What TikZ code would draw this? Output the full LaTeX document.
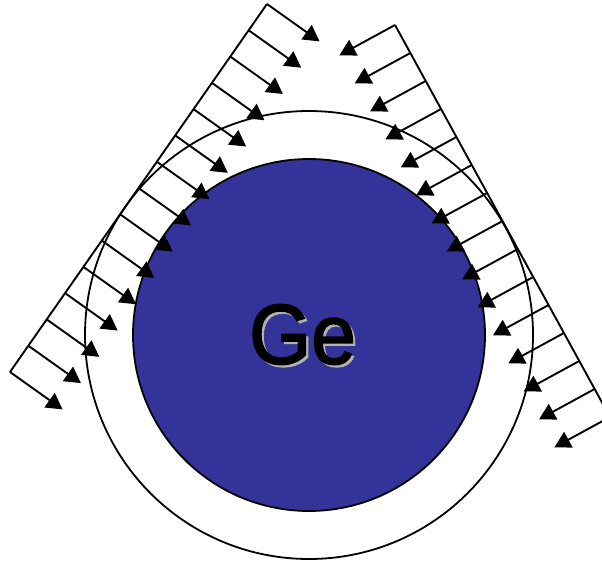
\documentclass[tikz,border=0pt]{standalone}
\usepackage{fontspec}
\setmainfont{Liberation Sans}
\newfontfamily\geplain[FakeStretch=0.94,FakeBold=1.2]{Liberation Sans}
\newfontfamily\geheavy[FakeStretch=0.94,FakeBold=2]{Liberation Sans}
\usetikzlibrary{arrows.meta}
\definecolor{geblue}{RGB}{51,51,153}
\definecolor{geshadow}{RGB}{178,178,178}
\tikzset{
  ring/.style={draw=black,line width=1.8pt,circle,inner sep=0pt,outer sep=0pt},
  edge line/.style={draw=black,line width=1.9pt},
  ray/.style={draw=black,line width=1.9pt,-{Triangle[length=16pt,width=17.5pt]},shorten >=-0.7pt},
  label text/.style={inner sep=0pt}
}
\begin{document}
\begin{tikzpicture}[x=1pt,y=-1pt]
\useasboundingbox (0,0) rectangle (602,562);
\clip (0,0) rectangle (602,562);
\node[ring,minimum size=448pt] (outer) at (309,335) {};
\node[ring,fill=geblue,minimum size=352pt] (inner) at (309,335) {};
\node[label text,text=geshadow,font=\geplain\fontsize{85}{85}\selectfont] (geshadow) at (305,337) {Ge};
\node[label text,text=black,font=\geheavy\fontsize{85}{85}\selectfont] (ge) at (302.5,334.5) {Ge};
% left sheet
\coordinate (la) at (267,4);
\coordinate (lb) at (10,372);
\draw[edge line] (la) -- (lb);
\foreach \i in {0,...,14}{
  \coordinate (ls\i) at ({267-18.357*\i},{4+26.286*\i});
  \coordinate (lt\i) at ({319-18.357*\i},{41+26.286*\i});
  \draw[ray] (ls\i) -- (lt\i);
}
% right sheet
\coordinate (ra) at (395,25);
\coordinate (rb) at (610,417);
\draw[edge line] (ra) -- (rb);
\foreach \i in {0,...,14}{
  \coordinate (rs\i) at ({395+15.357*\i},{25+28*\i});
  \coordinate (rt\i) at ({340+15.357*\i},{55+28*\i});
  \draw[ray] (rs\i) -- (rt\i);
}
\end{tikzpicture}
\end{document}
